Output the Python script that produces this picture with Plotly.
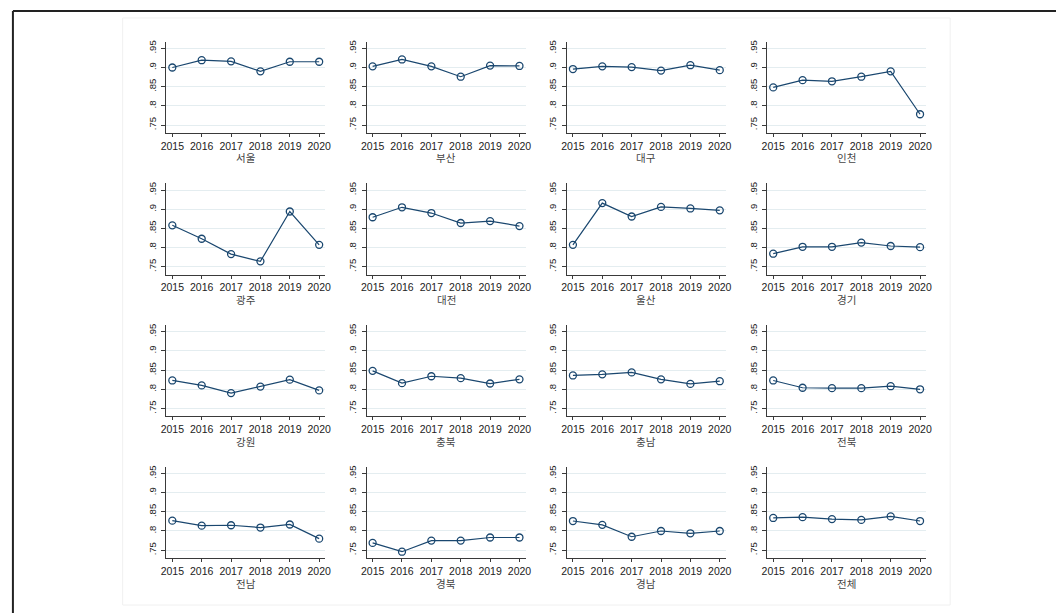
import plotly.graph_objects as go

# Yearly index by region, 2015-2020
years = [2015, 2016, 2017, 2018, 2019, 2020]
regions = ["서울", "부산", "대구", "인천",
           "광주", "대전", "울산", "경기",
           "강원", "충북", "충남", "전북",
           "전남", "경북", "경남", "전체"]

seoul = [0.900, 0.919, 0.916, 0.890, 0.915, 0.915]
busan = [0.903, 0.921, 0.903, 0.876, 0.905, 0.904]
daegu = [0.896, 0.903, 0.901, 0.892, 0.906, 0.893]
incheon = [0.848, 0.867, 0.864, 0.876, 0.890, 0.778]
gwangju = [0.858, 0.823, 0.783, 0.764, 0.894, 0.807]
daejeon = [0.879, 0.905, 0.890, 0.864, 0.869, 0.856]
ulsan = [0.807, 0.916, 0.881, 0.906, 0.902, 0.897]
gyeonggi = [0.784, 0.802, 0.802, 0.813, 0.804, 0.801]
gangwon = [0.823, 0.810, 0.790, 0.807, 0.825, 0.797]
chungbuk = [0.848, 0.816, 0.834, 0.829, 0.815, 0.826]
chungnam = [0.836, 0.839, 0.844, 0.826, 0.814, 0.821]
jeonbuk = [0.823, 0.804, 0.803, 0.803, 0.808, 0.800]
jeonnam = [0.827, 0.814, 0.815, 0.809, 0.817, 0.780]
gyeongbuk = [0.769, 0.746, 0.775, 0.775, 0.783, 0.783]
gyeongnam = [0.826, 0.816, 0.785, 0.800, 0.794, 0.800]
total = [0.834, 0.836, 0.831, 0.829, 0.838, 0.826]

series = [seoul, busan, daegu, incheon,
          gwangju, daejeon, ulsan, gyeonggi,
          gangwon, chungbuk, chungnam, jeonbuk,
          jeonnam, gyeongbuk, gyeongnam, total]

y_ticks = [0.75, 0.80, 0.85, 0.90, 0.95]
y_tick_text = [".75", ".8", ".85", ".9", ".95"]

W, H = 1056, 613
LINE = "#1a476f"
GRID = "#e4edf0"
AXIS = "#3a3a3a"
NUM_FONT = "Liberation Sans"
KR_FONT = "Noto Sans CJK KR"

fig = go.Figure()
layout = {}
annotations = []

for i, (name, vals) in enumerate(zip(regions, series)):
    r, c = divmod(i, 4)
    left = 162.3 + c * 202.6
    right = left + 160.7
    top = 40.8 + r * 141.95
    bottom = top + 91.4
    n = i + 1
    sfx = "" if n == 1 else str(n)

    fig.add_trace(go.Scatter(
        x=years, y=vals, mode="lines+markers",
        xaxis="x" + sfx, yaxis="y" + sfx,
        line=dict(color=LINE, width=1.2),
        marker=dict(symbol="circle-open", size=7, color=LINE,
                    line=dict(color=LINE, width=1.3)),
        showlegend=False, hoverinfo="x+y",
    ))

    layout["xaxis" + sfx] = dict(
        domain=[left / W, right / W], anchor="y" + sfx,
        range=[2014.8, 2020.21], tickmode="array", tickvals=years,
        ticktext=[str(y) for y in years],
        showgrid=False, zeroline=False, showline=True,
        linecolor=AXIS, linewidth=1, ticks="outside", ticklen=3,
        tickcolor=AXIS, tickwidth=1, ticklabelstandoff=0,
        tickfont=dict(family=NUM_FONT, size=10.5, color="#222222"),
        fixedrange=True,
    )
    layout["yaxis" + sfx] = dict(
        domain=[1 - bottom / H, 1 - top / H], anchor="x" + sfx,
        range=[0.7292, 0.9672], tickmode="array", tickvals=y_ticks,
        ticktext=y_tick_text, tickangle=-90,
        showgrid=True, gridcolor=GRID, gridwidth=1,
        zeroline=False, showline=True, linecolor=AXIS, linewidth=1,
        ticks="outside", ticklen=4, tickcolor=AXIS, tickwidth=1,
        ticklabelstandoff=2,
        tickfont=dict(family=NUM_FONT, size=9.5, color="#222222"),
        fixedrange=True,
    )
    annotations.append(dict(
        text=name, x=(left + right) / 2 / W, y=1 - (bottom + 25) / H,
        xref="paper", yref="paper", showarrow=False,
        xanchor="center", yanchor="middle",
        font=dict(family=KR_FONT, size=10.5, color="#444444"),
    ))

shapes = [
    # graph region
    dict(type="rect", xref="paper", yref="paper",
         x0=118 / W, x1=955 / W, y0=1 - 605 / H, y1=1 - 17 / H,
         line=dict(color="#f0f0f0", width=1), fillcolor="rgba(0,0,0,0)",
         layer="below"),
    # outer frame
    dict(type="line", xref="paper", yref="paper",
         x0=7 / W, x1=1.01, y0=1 - 10 / H, y1=1 - 10 / H,
         line=dict(color="#222222", width=2)),
    dict(type="line", xref="paper", yref="paper",
         x0=7 / W, x1=7 / W, y0=1 - 10 / H, y1=-0.01,
         line=dict(color="#222222", width=2)),
]

fig.update_layout(
    width=W, height=H,
    margin=dict(l=0, r=0, t=0, b=0),
    paper_bgcolor="white", plot_bgcolor="white",
    annotations=annotations, shapes=shapes,
    **layout,
)

fig.write_html("out.html")
